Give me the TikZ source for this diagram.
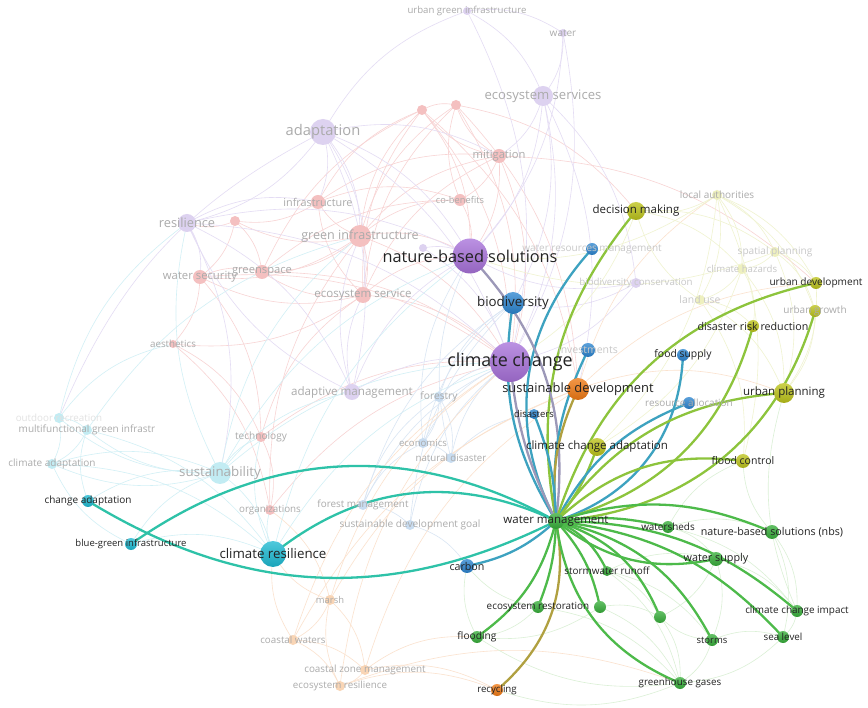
\documentclass[tikz,border=0pt]{standalone}
\usepackage{fontspec}
\setmainfont{Open Sans}
\newcommand\fsz[1]{\fontsize{#1pt}{#1pt}\selectfont}
\definecolor{cpur}{HTML}{A872DA}
\definecolor{cblu}{HTML}{2C85D0}
\definecolor{cora}{HTML}{F07A14}
\definecolor{cyel}{HTML}{BCC31A}
\definecolor{cgrn}{HTML}{37AE3A}
\definecolor{ccya}{HTML}{1DBAD2}
\definecolor{fpur}{HTML}{DDD2F0}
\definecolor{fred}{HTML}{F4C0C0}
\definecolor{fcya}{HTML}{C2ECF3}
\definecolor{fblu}{HTML}{C8DCF0}
\definecolor{fora}{HTML}{F9D5B5}
\definecolor{fyel}{HTML}{EEF0BE}
\definecolor{epur}{HTML}{E4DCF4}
\definecolor{ered}{HTML}{F8D4D4}
\definecolor{ecya}{HTML}{D2F0F6}
\definecolor{eblu}{HTML}{DAE6F4}
\definecolor{eora}{HTML}{FBE2CE}
\definecolor{eyel}{HTML}{F0F3D0}
\definecolor{egrn}{HTML}{DBF0D6}
\definecolor{hgrn}{HTML}{4DBA4A}
\definecolor{hyg}{HTML}{8DC43C}
\definecolor{hbt}{HTML}{3DA2C0}
\definecolor{hgp}{HTML}{9C98B8}
\definecolor{hteal}{HTML}{2EC2A8}
\definecolor{holv}{HTML}{B0A040}
\definecolor{txd}{HTML}{222222}
\definecolor{txf}{HTML}{ABABAB}
\definecolor{txp}{HTML}{C8C8C8}
\definecolor{txx}{HTML}{E2E2E2}
\begin{document}
\begin{tikzpicture}[x=1pt,y=-1pt,
  dot/.style={circle,inner sep=0pt,minimum size=#1,draw=none},
  labd/.style={inner sep=0pt,text=txd},
  labf/.style={inner sep=0pt,text=txf},
  labp/.style={inner sep=0pt,text=txp},
  labx/.style={inner sep=0pt,text=txx},
  fe/.style={line width=0.6pt},
  he/.style={line width=2.3pt}]
\fill[white] (0,0) rectangle (868,708);
\useasboundingbox (0,0) rectangle (868,708);

% ---------- faded node positions ----------
\foreach \n/\x/\y in {
 ugi/467/11, wat/563/33, ess/543/96, adp/323/132, r1/422/110, r2/456/105, mit/499/156,
 cob/460/200, inf/318/202, res/187/223, r3/235/221, gi/360/236, p1/423/248, gsp/262/272,
 wsec/200/277, esv/363/295, aes/173/344, adm/352/392, frs/439/397, eco/423/443,
 natd/451/458, tec/261/437, sus/220/473, odr/59/418, mgi/87/430, cad/52/464, org/270/510,
 fm/363/505, sdg/410/525, mar/330/600, cw/293/640, czm/365/670, eres/340/686, la/717/195,
 sp/775/252, ch/742/269, bc/636/283, lu/700/300}
 {\coordinate (\n) at (\x,\y);}

% ---------- highlighted node positions ----------
\foreach \n/\x/\y in {
 nbs/470/256, cc/510/362, bio/513/303, sd/578/389, dis/534/414, cca/597/447,
 wm/556/521, dm/636/211, wrm/592/249, inv/588/350, fs/683/355, ra/689/403,
 ud/816/283, ug/815/311, drr/753/326, up/784/393, fc/743/461, carb/467/566,
 cr/273/554, ca/88/501, bgi/131/544, ws/668/527, nbsn/772/532, wsup/716/559,
 swr/607/571, er/538/607, g1/600/607, g2/660/617, fl/477/637, rec/497/690,
 st/712/640, sl/783/637, cci/797/611, ghg/680/683}
 {\coordinate (\n) at (\x,\y);}

% ---------- faint edges ----------
\foreach \a/\b in {gi/inf,gi/esv,gi/gsp,gi/cob,gi/mit,gi/r1,gi/r2,gi/wsec,gi/r3,gi/cc,gi/nbs,
 esv/wsec,esv/gsp,esv/aes,esv/mit,esv/r1,esv/r2,esv/cc,esv/nbs,esv/inf,inf/cob,inf/r1,inf/r3,
 inf/mit,r3/wsec,r3/gsp,r3/res,wsec/gsp,wsec/aes,wsec/tec,gsp/r1,gsp/cob,aes/tec,aes/org,
 tec/org,tec/cc,org/cc,mit/r1,mit/r2,mit/cob,mit/cc,cob/nbs,cob/r2,r1/r2,r1/cc,r2/cc,r1/nbs,
 mit/nbs,tec/esv,org/gi,r2/sd,r1/sd,mit/ud,r2/dm,gsp/cc,wsec/cc}
 {\draw[fe,ered] (\a) to[bend left=20] (\b);}
\foreach \a/\b in {adp/ugi,ugi/ess,ugi/wat,wat/ess,ugi/cc,wat/nbs,ess/nbs,ess/cc,ess/mit,ess/bio,
 adp/res,adp/inf,adp/nbs,adp/cc,adp/gi,adp/esv,adp/mit,res/wsec,res/nbs,res/cc,res/inf,res/sus,
 adm/cc,adm/nbs,adm/gi,adm/esv,adm/res,p1/nbs,p1/cc,bc/nbs,bc/cc,bc/bio,adp/adm,res/adm,
 odr/adp,ess/sd,wat/cc,ess/bc}
 {\draw[fe,epur] (\a) to[bend left=20] (\b);}
\foreach \a/\b in {sus/cr,sus/mgi,sus/odr,sus/cad,sus/tec,sus/cc,sus/nbs,sus/res,odr/res,odr/mgi,
 odr/cad,mgi/cad,mgi/cr,cad/cr,ca/mgi,bgi/sus,bgi/cad,cr/tec,cr/org,cr/cc,sus/adm,odr/aes,
 mgi/gi,cr/nbs,sus/gi,cad/sus,ca/sus,bgi/cr}
 {\draw[fe,ecya] (\a) to[bend left=20] (\b);}
\foreach \a/\b in {frs/eco,frs/natd,frs/cc,eco/natd,eco/cc,natd/cc,fm/sdg,fm/frs,fm/cc,sdg/cc,
 sdg/carb,sdg/bio,eco/bio,natd/dis,fm/eco,frs/bio,eco/nbs,fm/bio,natd/nbs}
 {\draw[fe,eblu] (\a) to[bend left=20] (\b);}
\foreach \a/\b in {mar/cw,cw/czm,czm/eres,eres/mar,mar/czm,cw/eres,mar/cr,cw/cr,czm/sd,eres/rec,
 czm/rec,mar/sd,cw/sd,org/mar,cw/cc,eres/cc,mar/cc,czm/fl,eres/ghg,sd/la,sd/ud,sd/up}
 {\draw[fe,eora] (\a) to[bend left=20] (\b);}
\foreach \a/\b in {la/dm,la/sp,la/ch,la/lu,la/ud,la/ug,sp/ch,sp/ud,sp/ug,ch/drr,ch/lu,lu/up,lu/drr,
 lu/dm,dm/sp,dm/ch,sp/up,ch/up,la/cca,la/fc,ud/up,ug/up,dm/cc,la/nbs,sp/nbs,ch/cca,lu/fc}
 {\draw[fe,eyel] (\a) to[bend left=20] (\b);}
\foreach \a/\b in {ws/cci,ws/wsup,ws/nbsn,wsup/st,wsup/cci,wsup/g2,st/g2,st/ghg,st/sl,g1/g2,g1/fl,
 er/fl,swr/wsup,swr/g2,cci/sl,nbsn/cci,nbsn/sl,nbsn/fc,ghg/rec,ghg/fl,g2/ghg,swr/st,ws/fc,
 cci/up,fl/carb,er/carb,sl/ghg,g1/ghg,er/ghg,swr/ghg}
 {\draw[fe,egrn] (\a) to[bend left=20] (\b);}

% ---------- highlighted edges of water management ----------
\draw[he,hyg]   (wm) to[bend left=25] (dm);
\draw[he,hbt]   (wm) to[bend left=35] (wrm);
\draw[he,hgp]   (wm) to[bend right=25] (nbs);
\draw[he,hbt]   (wm) to[bend left=20] (bio);
\draw[he,hgp]   (wm) to[bend left=10] (cc);
\draw[he,hbt]   (wm) to[bend left=15] (inv);
\draw[he,holv]  (wm) to[bend left=15] (sd);
\draw[he,hbt]   (wm) to[bend right=10] (dis);
\draw[he,hyg]   (wm) to[bend right=10] (cca);
\draw[he,hbt]   (wm) to[bend right=35] (fs);
\draw[he,hbt]   (wm) to[bend left=20] (ra);
\draw[he,hyg]   (wm) to[bend left=30] (ud);
\draw[he,hyg]   (wm) to[bend right=30] (drr);
\draw[he,hyg]   (wm) to[bend right=35] (ug);
\draw[he,hyg]   (wm) to[bend left=25] (up);
\draw[he,hyg]   (wm) to[bend left=25] (fc);
\draw[he,hteal] (wm) to[bend right=32] (cr);
\draw[he,hteal] (wm) to[bend right=32] (bgi);
\draw[he,hteal] (wm) to[bend left=29] (ca);
\draw[he,hbt]   (wm) to[bend left=15] (carb);
\draw[he,hgrn]  (wm) to[bend left=10] (ws);
\draw[he,hgrn]  (wm) to[bend left=20] (nbsn);
\draw[he,hgrn]  (wm) to[bend right=25] (wsup);
\draw[he,hgrn]  (wm) to[bend left=20] (cci);
\draw[he,hgrn]  (wm) to[bend left=20] (sl);
\draw[he,hgrn]  (wm) to[bend left=25] (st);
\draw[he,hgrn]  (wm) to[bend left=25] (g2);
\draw[he,hgrn]  (wm) to[bend left=15] (g1);
\draw[he,hgrn]  (wm) to[bend left=20] (swr);
\draw[he,hgrn]  (wm) to[bend left=10] (er);
\draw[he,hgrn]  (wm) to[bend left=20] (fl);
\draw[he,holv]  (wm) to[bend left=30] (rec);
\draw[he,hgrn]  (wm) to[bend right=30] (ghg);

% ---------- faded node discs ----------
\foreach \n/\d/\c in {
 ugi/8/fpur, wat/8/fpur, ess/20/fpur, adp/26/fpur, r1/10/fred, r2/10/fred, mit/14/fred,
 cob/12/fred, inf/14/fred, res/18/fpur, r3/10/fred, gi/22/fred, p1/8/fpur, gsp/14/fred,
 wsec/14/fred, esv/16/fred, aes/8/fred, adm/16/fpur, frs/10/fblu, eco/10/fblu, natd/10/fblu,
 tec/10/fred, sus/22/fcya, odr/10/fcya, mgi/10/fcya, cad/10/fcya, org/10/fred, fm/10/fblu,
 sdg/10/fblu, mar/10/fora, cw/10/fora, czm/10/fora, eres/10/fora, la/10/fyel, sp/10/fyel,
 ch/10/fyel, bc/10/fpur, lu/10/fyel}
 {\node[dot=\d, fill=\c] (d\n) at (\n) {};}

% ---------- highlighted node discs ----------
\foreach \n/\d/\c in {
 nbs/35/cpur, cc/40/cpur, bio/22/cblu, sd/22/cora, dis/10/cblu, cca/18/cyel, wm/16/cgrn,
 dm/18/cyel, wrm/12/cblu, inv/14/cblu, fs/12/cblu, ra/12/cblu, ud/12/cyel, ug/12/cyel,
 drr/12/cyel, up/20/cyel, fc/14/cyel, carb/14/cblu, cr/26/ccya, ca/12/ccya, bgi/12/ccya,
 ws/12/cgrn, nbsn/14/cgrn, wsup/14/cgrn, swr/10/cgrn, er/12/cgrn, g1/12/cgrn, g2/12/cgrn,
 fl/12/cgrn, rec/12/cora, st/12/cgrn, sl/12/cgrn, cci/12/cgrn, ghg/12/cgrn}
 {\node[dot=\d, top color=\c!78!white, bottom color=\c!88!black] (d\n) at (\n) {};}

% ---------- faded labels ----------
\foreach \n/\s/\t in {
 ugi/9.6/urban green infrastructure, wat/10/water, ess/13.1/ecosystem services,
 adp/14.7/adaptation, mit/11.2/mitigation, cob/9.3/co-benefits, inf/10.8/infrastructure,
 res/12.8/resilience, gi/12.6/green infrastructure, gsp/11.2/greenspace,
 wsec/11.3/water security, esv/11.5/ecosystem service, aes/9.8/aesthetics,
 adm/11.6/adaptive management, frs/10.2/forestry, eco/9.6/economics,
 natd/9.7/natural disaster, tec/10.1/technology, sus/13.3/sustainability,
 mgi/10/multifunctional green infrastr, cad/10/climate adaptation, org/9.8/organizations,
 fm/9.9/forest management, sdg/10.1/sustainable development goal, mar/9.4/marsh,
 cw/9.8/coastal waters, czm/9.9/coastal zone management, eres/9.8/ecosystem resilience,
 la/10/local authorities, ra/9.9/resource allocation, ug/10/urban growth}
 {\node[labf, font=\fsz{\s}] (t\n) at (\n) {\t};}
\foreach \n/\s/\t in {
 sp/10.1/spatial planning, ch/9.6/climate hazards, bc/9.7/biodiversity conservation,
 lu/10.4/land use, wrm/10/water resources management, inv/10.5/investments}
 {\node[labp, font=\fsz{\s}] (t\n) at (\n) {\t};}
\node[labx, font=\fsz{9.8}] (todr) at (odr) {outdoor recreation};

% ---------- dark labels ----------
\foreach \n/\s/\t in {
 nbs/16.3/nature-based solutions, cc/17.9/climate change, bio/13.3/biodiversity,
 sd/12.9/sustainable development, dis/9.5/disasters, cca/11.5/climate change adaptation,
 wm/11.5/water management, dm/11.5/decision making, fs/10.4/food supply,
 ud/10.1/urban development, drr/10.7/disaster risk reduction, up/11.5/urban planning,
 fc/10.5/flood control, carb/10.7/carbon, cr/13.3/climate resilience,
 ca/10/change adaptation, bgi/9.5/blue-green infrastructure, ws/9.9/watersheds,
 nbsn/10.7/nature-based solutions (nbs), wsup/10.8/water supply,
 swr/9.9/stormwater runoff, er/9.9/ecosystem restoration, fl/10.2/flooding,
 rec/9.7/recycling, st/9.5/storms, sl/9.8/sea level, cci/9.9/climate change impact,
 ghg/9.8/greenhouse gases}
 {\node[labd, font=\fsz{\s}] (t\n) at (\n) {\t};}
\end{tikzpicture}
\end{document}
